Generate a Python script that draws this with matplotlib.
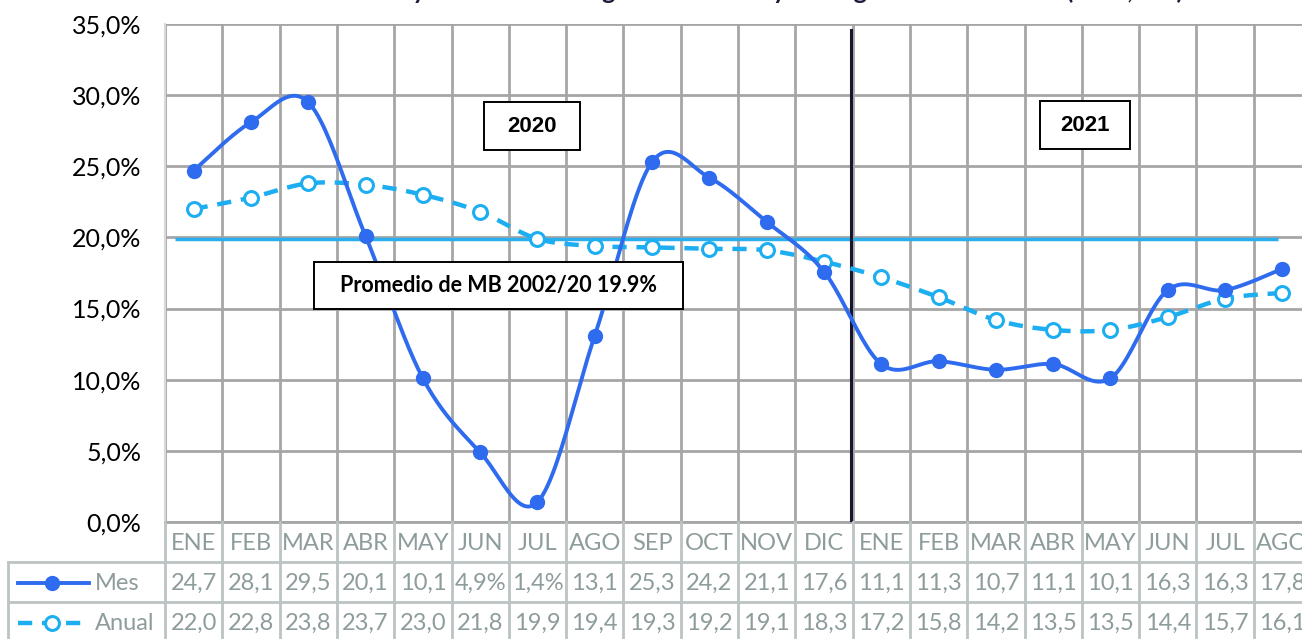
import numpy as np
import matplotlib
matplotlib.use("Agg")
import matplotlib.pyplot as plt
from matplotlib.patches import Rectangle
from matplotlib.lines import Line2D

# ---------------- data ----------------
months = ["ENE", "FEB", "MAR", "ABR", "MAY", "JUN", "JUL", "AGO", "SEP", "OCT",
          "NOV", "DIC", "ENE", "FEB", "MAR", "ABR", "MAY", "JUN", "JUL", "AGO"]
mes = [24.7, 28.1, 29.5, 20.1, 10.1, 4.9, 1.4, 13.1, 25.3, 24.2,
       21.1, 17.6, 11.1, 11.3, 10.7, 11.1, 10.1, 16.3, 16.3, 17.8]
anual = [22.0, 22.8, 23.8, 23.7, 23.0, 21.8, 19.9, 19.4, 19.3, 19.2,
         19.1, 18.3, 17.2, 15.8, 14.2, 13.5, 13.5, 14.4, 15.7, 16.1]
mes_labels = ["24,7", "28,1", "29,5", "20,1", "10,1", "4,9%", "1,4%", "13,1", "25,3", "24,2",
              "21,1", "17,6", "11,1", "11,3", "10,7", "11,1", "10,1", "16,3", "16,3", "17,8"]
anual_labels = ["22,0", "22,8", "23,8", "23,7", "23,0", "21,8", "19,9", "19,4", "19,3", "19,2",
                "19,1", "18,3", "17,2", "15,8", "14,2", "13,5", "13,5", "14,4", "15,7", "16,1"]
promedio = 19.9
yticks = [0, 5, 10, 15, 20, 25, 30, 35]
ytick_labels = ["0,0%", "5,0%", "10,0%", "15,0%", "20,0%", "25,0%", "30,0%", "35,0%"]
title = "Base Monetaria: tasa mensual y anual de BM según datos BCB y al rango histórico medio (en %, a/a)"

# ---------------- style ----------------
C_MES = "#2E6BEE"
C_ANU = "#1DAEF2"
C_AVG = "#2AAEEE"
C_GRID = "#A6A6A6"
C_TAB = "#BCC3C3"
C_TTXT = "#8E9C9C"
FONT = "Lato"

W, H = 1302, 639
fig = plt.figure(figsize=(W / 100, H / 100), dpi=100)

x0, x1 = 165, 1311
ytop, ybot = 24, 522
ax = fig.add_axes([x0 / W, (H - ybot) / H, (x1 - x0) / W, (ybot - ytop) / H])
n = len(months)
ax.set_xlim(-0.5, n - 0.5)
ax.set_ylim(0, 35)


def smooth(xs, ys, k=24):
    xs = np.asarray(xs, float)
    ys = np.asarray(ys, float)
    P = np.column_stack([xs, ys])
    m = len(P)
    out = [P[0]]
    t = np.linspace(0, 1, k + 1)[1:]
    for i in range(m - 1):
        p0 = P[max(i - 1, 0)]
        p1 = P[i]
        p2 = P[i + 1]
        p3 = P[min(i + 2, m - 1)]
        c1 = p1 + (p2 - p0) / 6.0
        c2 = p2 - (p3 - p1) / 6.0
        for tt in t:
            b = ((1 - tt) ** 3) * p1 + 3 * ((1 - tt) ** 2) * tt * c1 + 3 * (1 - tt) * tt ** 2 * c2 + tt ** 3 * p2
            out.append(b)
    out = np.array(out)
    return out[:, 0], out[:, 1]


xs = np.arange(n)

# grid
ax.set_xticks(np.arange(-0.5, n, 1.0))
ax.set_xticklabels([])
ax.set_yticks(yticks)
ax.set_yticklabels(ytick_labels, fontsize=18, family=FONT)
ax.tick_params(axis="both", length=0)
ax.tick_params(axis="y", pad=17)
ax.grid(True, color=C_GRID, lw=2.0, zorder=0)
for s in ["right", "top"]:
    ax.spines[s].set_visible(False)
ax.spines["left"].set_color("#D9D9D9")
ax.spines["left"].set_linewidth(1.5)
ax.spines["bottom"].set_color(C_GRID)
ax.spines["bottom"].set_linewidth(2.0)
ax.set_axisbelow(True)

# average line
ax.plot([-0.33, 18.92], [promedio, promedio], color=C_AVG, lw=2.5, zorder=2, solid_capstyle="butt")

# vertical separator
ax.plot([11.47, 11.47], [0.14, 34.6], color="#15152E", lw=2.2, zorder=3)

# series
sx, sy = smooth(xs, anual)
ax.plot(sx, sy, color=C_ANU, lw=3.2, ls=(0, (3.2, 2.2)), zorder=4)
ax.plot(xs, anual, ls="none", marker="o", ms=10, mfc="white", mec=C_ANU, mew=2.2, zorder=5)
sx, sy = smooth(xs, mes)
ax.plot(sx, sy, color=C_MES, lw=2.8, zorder=6, solid_capstyle="round")
ax.plot(xs, mes, ls="none", marker="o", ms=10, mfc=C_MES, mec=C_MES, zorder=7)

# text boxes
def box(xa, xb, ya, yb, text, size, fam, weight="bold"):
    ax.add_patch(Rectangle((xa, yb), xb - xa, ya - yb, fill=True, fc="white", ec="black", lw=1.4, zorder=8))
    ax.text((xa + xb) / 2, (ya + yb) / 2, text, ha="center", va="center", fontsize=size,
            family=fam, weight=weight, zorder=9)

box(5.07, 6.74, 29.52, 26.14, "2020", 16, "Liberation Sans")
box(14.77, 16.34, 29.59, 26.21, "2021", 16, "Liberation Sans")
box(2.10, 8.54, 18.27, 14.97, "Promedio de MB 2002/20 19.9%", 15.5, "Lato")

# title (clipped at the top)
fig.text(1183 / W, 1 + 1.0 / H, title, ha="right", va="baseline", fontsize=18,
         family=FONT, weight="bold", color="#1C1C3A")

# ---------------- data table ----------------
tax = fig.add_axes([x0 / W, (H - 642) / H, (x1 - x0) / W, 120 / H])
tax.set_xlim(-0.5, n - 0.5)
tax.set_ylim(120, 0)
tax.axis("off")
xl = -0.5 - (165 - 8) / 57.3
for yy in [40, 80, 120]:
    tax.add_line(Line2D([xl, n - 0.5], [yy, yy], color=C_TAB, lw=2.0, clip_on=False))
for k in range(n + 1):
    tax.add_line(Line2D([k - 0.5, k - 0.5], [0, 120], color=C_TAB, lw=2.0, clip_on=False))
tax.add_line(Line2D([xl, xl], [40, 120], color=C_TAB, lw=2.0, clip_on=False))
TS = 17
for i in range(n):
    tax.text(i, 21, months[i], ha="center", va="center", fontsize=TS, family=FONT, color=C_TTXT, clip_on=False)
    tax.text(i, 61, mes_labels[i], ha="center", va="center", fontsize=TS, family=FONT, color=C_TTXT, clip_on=False)
    tax.text(i, 101, anual_labels[i], ha="center", va="center", fontsize=TS, family=FONT, color=C_TTXT, clip_on=False)

lx0 = -0.5 - (165 - 18) / 57.3
lx1 = -0.5 - (165 - 89) / 57.3
lxm = -0.5 - (165 - 52) / 57.3
ltx = -0.5 - (165 - 95) / 57.3
tax.add_line(Line2D([lx0, lx1], [61, 61], color=C_MES, lw=2.8, clip_on=False))
tax.add_line(Line2D([lxm], [61], ls="none", marker="o", ms=10, mfc=C_MES, mec=C_MES, clip_on=False))
tax.add_line(Line2D([lx0, lx1], [101, 101], color=C_ANU, lw=3.2, ls=(0, (3.2, 2.2)), clip_on=False))
tax.add_line(Line2D([lxm], [101], ls="none", marker="o", ms=10, mfc="white", mec=C_ANU, mew=2.2, clip_on=False))
tax.text(ltx, 61, "Mes", ha="left", va="center", fontsize=TS, family=FONT, color=C_TTXT, clip_on=False)
tax.text(ltx, 101, "Anual", ha="left", va="center", fontsize=TS, family=FONT, color=C_TTXT, clip_on=False)

fig.savefig("out.png", dpi=100)
